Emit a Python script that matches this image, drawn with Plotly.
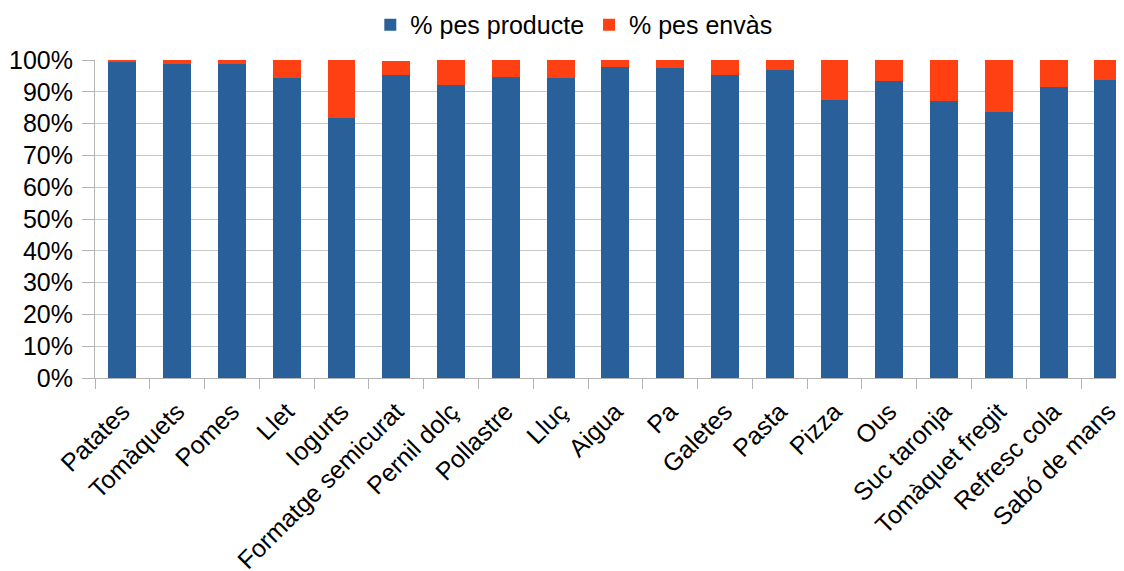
import plotly.graph_objects as go

categories = ["Patates", "Tomàquets", "Pomes", "Llet", "Iogurts", "Formatge semicurat",
              "Pernil dolç", "Pollastre", "Lluç", "Aigua", "Pa", "Galetes", "Pasta",
              "Pizza", "Ous", "Suc taronja", "Tomàquet fregit", "Refresc cola", "Sabó de mans"]
producte = [99.5, 98.9, 98.9, 94.4, 81.8, 95.4, 92.0, 94.7, 94.4, 97.9, 97.6, 95.4, 96.9,
            87.5, 93.5, 87.2, 83.5, 91.6, 93.8]
envas = [0.5, 1.1, 1.1, 5.6, 18.2, 4.2, 8.0, 5.3, 5.6, 2.1, 2.4, 4.6, 3.1,
         12.5, 6.5, 12.8, 16.5, 8.4, 6.2]
y_ticks = [0, 10, 20, 30, 40, 50, 60, 70, 80, 90, 100]
y_labels = [f"{v}%" for v in y_ticks]

fig = go.Figure()
fig.add_bar(x=categories, y=producte, name="% pes producte", marker_color="#2A6099",
            marker_line_width=0)
fig.add_bar(x=categories, y=envas, name="% pes envàs", marker_color="#FF4013",
            marker_line_width=0)

fig.update_layout(
    barmode="stack",
    bargap=0.49,
    width=1116, height=563,
    margin=dict(l=87, r=0, t=52, b=193, autoexpand=False),
    paper_bgcolor="white", plot_bgcolor="white",
    font=dict(family="Liberation Sans, Arial, sans-serif", size=25, color="black"),
    legend=dict(orientation="h", xref="container", yref="container",
                x=0.507, xanchor="center", y=0.970, yanchor="middle",
                font=dict(size=25), traceorder="normal"),
    showlegend=True,
)
fig.update_xaxes(range=[-0.5, 18.285], tickangle=-45, ticks="outside", tickson="boundaries",
                 ticklen=10, tickcolor="#b3b3b3", showline=True, linecolor="#b3b3b3",
                 showgrid=False, tickfont=dict(size=25), ticklabelstandoff=8)
fig.update_yaxes(range=[0, 100], tickvals=y_ticks, ticktext=y_labels, ticks="outside",
                 ticklen=12, tickcolor="#b3b3b3", showline=True, linecolor="#b3b3b3",
                 showgrid=True, gridcolor="#c8c8c8", gridwidth=1, zeroline=False,
                 tickfont=dict(size=25), ticklabelstandoff=4)

fig.write_html("out.html")
